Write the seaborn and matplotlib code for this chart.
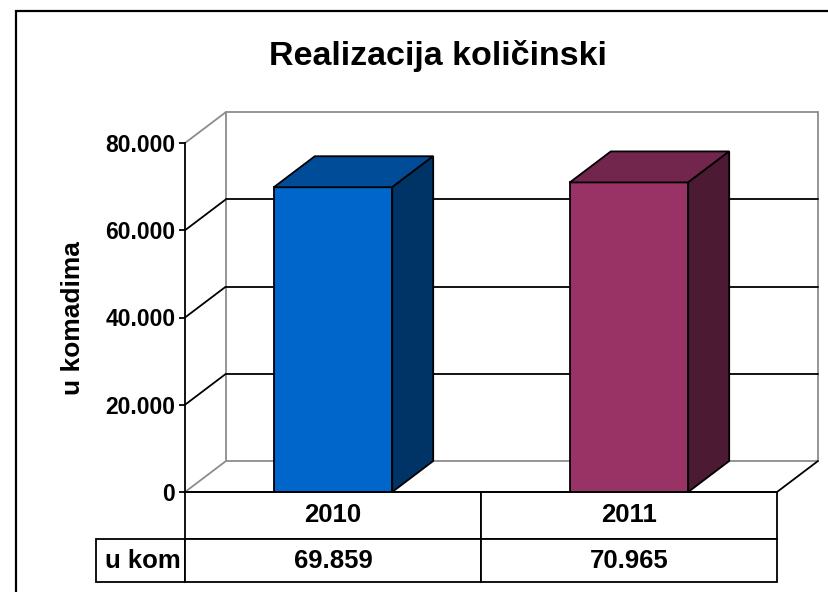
import matplotlib
matplotlib.use("Agg")
import matplotlib.pyplot as plt
import seaborn as sns
from matplotlib.patches import Polygon, Rectangle
from matplotlib.ticker import FuncFormatter
from matplotlib.table import Table

# data
years = ["2010", "2011"]
values = [69859, 70965]
row_label = "u kom"
y_ticks = [0, 20000, 40000, 60000, 80000]

# Excel-like palette: front / top / side of each column
front_colors = ["#0066CC", "#993366"]
top_colors = ["#004C99", "#73264D"]
side_colors = ["#003366", "#4D1A33"]


def fmt(v, pos=None):
    return f"{int(v):,}".replace(",", ".")


sns.set_style("white")
plt.rcParams["font.family"] = ["Liberation Sans", "DejaVu Sans"]
plt.rcParams["font.weight"] = "bold"
plt.rcParams["text.color"] = "black"

W, H = 829, 592
fig = plt.figure(figsize=(W / 100, H / 100), dpi=100)
fig.patch.set_facecolor("white")

# front plane of the plot box, in pixels
left, right, top, bottom = 185, 777, 143, 492
ax = fig.add_axes([left / W, 1 - bottom / H, (right - left) / W, (bottom - top) / H])
ax.set_facecolor("none")

sns.barplot(x=years, y=values, hue=years, palette=front_colors, legend=False,
            width=0.4, saturation=1, errorbar=None,
            edgecolor="black", linewidth=1.3, ax=ax)
bars = list(ax.patches)

ax.set_xlim(-0.5, len(years) - 0.5)
ax.set_ylim(y_ticks[0], y_ticks[-1])
x0, x1 = ax.get_xlim()

# depth of the fake 3d box (41 x 31 px) in data units
dx = 41 / (right - left) * (x1 - x0)
dy = 31 / (bottom - top) * (y_ticks[-1] - y_ticks[0])
grey = "#8c8c8c"
lw = 1.3

# back wall
ax.add_patch(Rectangle((x0 + dx, y_ticks[0] + dy), x1 - x0, y_ticks[-1] - y_ticks[0],
                       facecolor="white", edgecolor=grey, lw=lw, zorder=0.3, clip_on=False))

# side wall diagonals + gridlines on back wall
for t in y_ticks:
    inner = y_ticks[0] < t < y_ticks[-1]
    ax.plot([x0, x0 + dx], [t, t + dy], color="black" if inner else grey,
            lw=lw, zorder=0.4, clip_on=False, solid_capstyle="butt")
    if inner:
        ax.plot([x0 + dx, x1 + dx], [t + dy, t + dy], color="black",
                lw=lw, zorder=0.4, clip_on=False)
# right edge of the floor
ax.plot([x1, x1 + dx], [0, dy], color="black", lw=lw, zorder=0.4, clip_on=False)

# top and side faces of every column
for bar, tc, sc in zip(bars, top_colors, side_colors):
    bx, bw, bh = bar.get_x(), bar.get_width(), bar.get_height()
    top_face = [(bx, bh), (bx + dx, bh + dy), (bx + bw + dx, bh + dy), (bx + bw, bh)]
    side_face = [(bx + bw, 0), (bx + bw + dx, dy), (bx + bw + dx, bh + dy), (bx + bw, bh)]
    z = bar.get_zorder()
    ax.add_patch(Polygon(top_face, closed=True, facecolor=tc, edgecolor="black",
                         lw=lw, zorder=z, clip_on=False))
    ax.add_patch(Polygon(side_face, closed=True, facecolor=sc, edgecolor="black",
                         lw=lw, zorder=z, clip_on=False))

# axes styling
ax.spines[["top", "right"]].set_visible(False)
for s in ["left", "bottom"]:
    ax.spines[s].set_color("black")
    ax.spines[s].set_linewidth(lw)
ax.set_xticks([])
ax.set_xlabel("")
ax.set_ylabel("")
ax.set_yticks(y_ticks)
ax.yaxis.set_major_formatter(FuncFormatter(fmt))
ax.tick_params(axis="y", left=True, direction="out", length=4, width=lw,
               color="black", pad=3, labelsize=16.5, labelcolor="black")

# data table under the plot
col_w = [89, 296, 296]
row_h = [47, 43]
rows = [[""] + years, [row_label] + [fmt(v) for v in values]]
tbl = Table(ax, bbox=[-col_w[0] / (right - left), -sum(row_h) / (bottom - top),
                      sum(col_w) / (right - left), sum(row_h) / (bottom - top)])
for r, row in enumerate(rows):
    for c, txt in enumerate(row):
        cell = tbl.add_cell(r, c, width=col_w[c], height=row_h[r], text=txt,
                            loc="left" if c == 0 else "center", facecolor="white")
        cell.set_linewidth(lw)
        cell.set_edgecolor("black")
        cell.get_text().set_fontweight("bold")
        cell.get_text().set_color("black")
tbl[0, 0].set_visible(False)
tbl.auto_set_font_size(False)
tbl.set_fontsize(18.5)
ax.add_table(tbl)

# title, axis label and outer frame
fig.text(438 / W, 1 - 56 / H, "Realizacija količinski", ha="center", va="center",
         fontsize=24.5, fontweight="bold", color="black")
fig.text(73 / W, 1 - 318 / H, "u komadima", ha="center", va="center",
         rotation=90, fontsize=19, fontweight="bold", color="black")
fig.add_artist(Rectangle((16 / W, -0.05), 1.0, 1 - 11 / H + 0.05, transform=fig.transFigure,
                         fill=False, edgecolor="black", lw=1.6))

fig.savefig("out.png", dpi=100)
